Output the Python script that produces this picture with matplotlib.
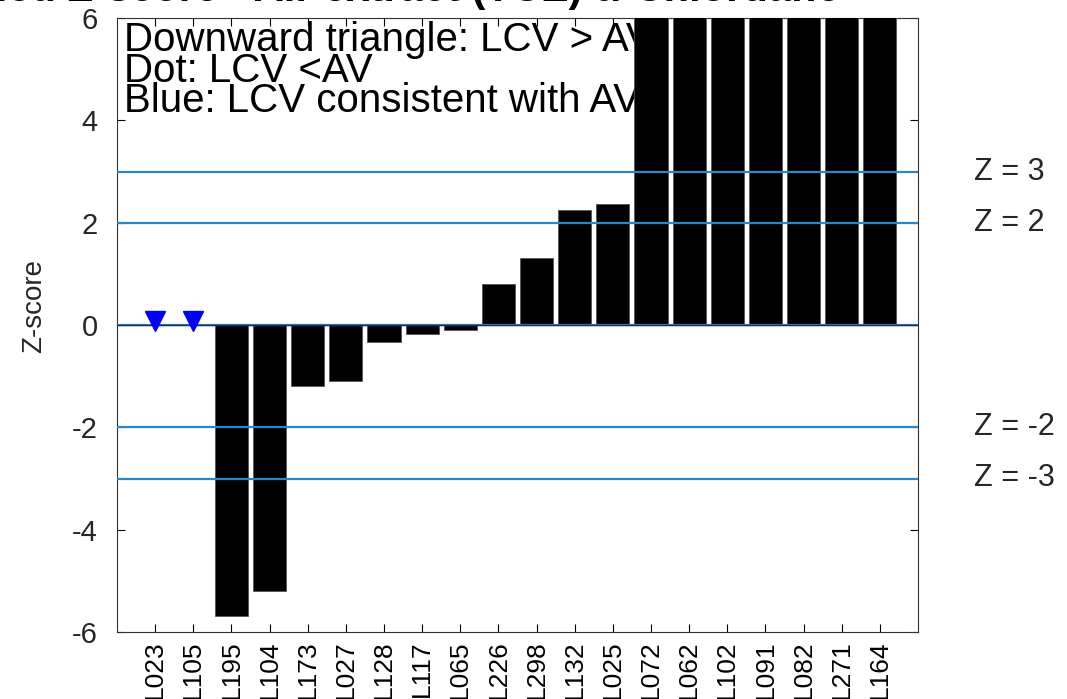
import numpy as np
import matplotlib
matplotlib.use("Agg")
import matplotlib.pyplot as plt

plt.rcParams['font.family'] = ['Liberation Sans', 'DejaVu Sans']
plt.rcParams['axes.unicode_minus'] = False

labs = ["L023", "L105", "L195", "L104", "L173", "L027", "L128", "L117", "L065", "L226",
        "L298", "L132", "L025", "L072", "L062", "L102", "L091", "L082", "L271", "L164"]
# z-scores (bars above 6 run off the top of the axes)
zvals = [np.nan, np.nan, -5.68, -5.2, -1.2, -1.1, -0.33, -0.18, -0.1, 0.8,
         1.3, 2.25, 2.37, 12.0, 12.0, 12.0, 12.0, 12.0, 12.0, 12.0]
tri_labs = ["L023", "L105"]
zlines = [3, 2, -2, -3]
notes = ["Downward triangle: LCV > AV", "Dot: LCV <AV", "Blue: LCV consistent with AV"]

fig = plt.figure(figsize=(10.67, 6.99), dpi=100)
ax = fig.add_axes([117/1067, 1 - 632/699, 801/1067, 614/699])

x = np.arange(1, len(labs) + 1)
ax.bar(x, np.nan_to_num(zvals), width=0.87, color='black', edgecolor='#555555', linewidth=0.6, zorder=3)

for zl in zlines + [0]:
    ax.axhline(zl, color='#2a86c8', lw=1.6, zorder=4)
ax.axhline(0, color='#1a3050', lw=1.0, zorder=4)

tx = [labs.index(t) + 1 for t in tri_labs]
ax.plot(tx, [0.08] * len(tx), 'v', color='blue', ms=15, zorder=5)

ax.set_xlim(0, len(labs) + 1)
ax.set_ylim(-6, 6)
ax.set_xticks(x)
ax.set_xticklabels(labs, rotation=90, fontsize=19)
ax.set_yticks(np.arange(-6, 7, 2))
ax.tick_params(axis='y', labelsize=21, labelcolor='#262626', pad=14)
ax.tick_params(axis='x', pad=6)
ax.tick_params(direction='in', top=True, right=True, length=6, width=0.8)
for sp in ax.spines.values():
    sp.set_color('#333333')
ax.set_ylabel("Z-score", fontsize=20, color='#262626')
ax.yaxis.set_label_coords(-0.087, 0.531)

for zl in zlines:
    ax.text(len(labs) + 2.47, zl, f"Z = {zl}", fontsize=22, va='center', ha='left',
            color='#262626', clip_on=False)

for i, s in enumerate(notes):
    ax.text(124/1067, 1 - (51 + 30.5*i)/699, s, transform=fig.transFigure,
            fontsize=29, va='baseline', ha='left', zorder=1)

fig.text(840/1067, 1 - 0.5/699, "Rescaled Z-score - Air extract (TCE) α-Chlordane",
         fontsize=30, fontweight='bold', ha='right', va='baseline')

fig.savefig("out.png", dpi=100)
